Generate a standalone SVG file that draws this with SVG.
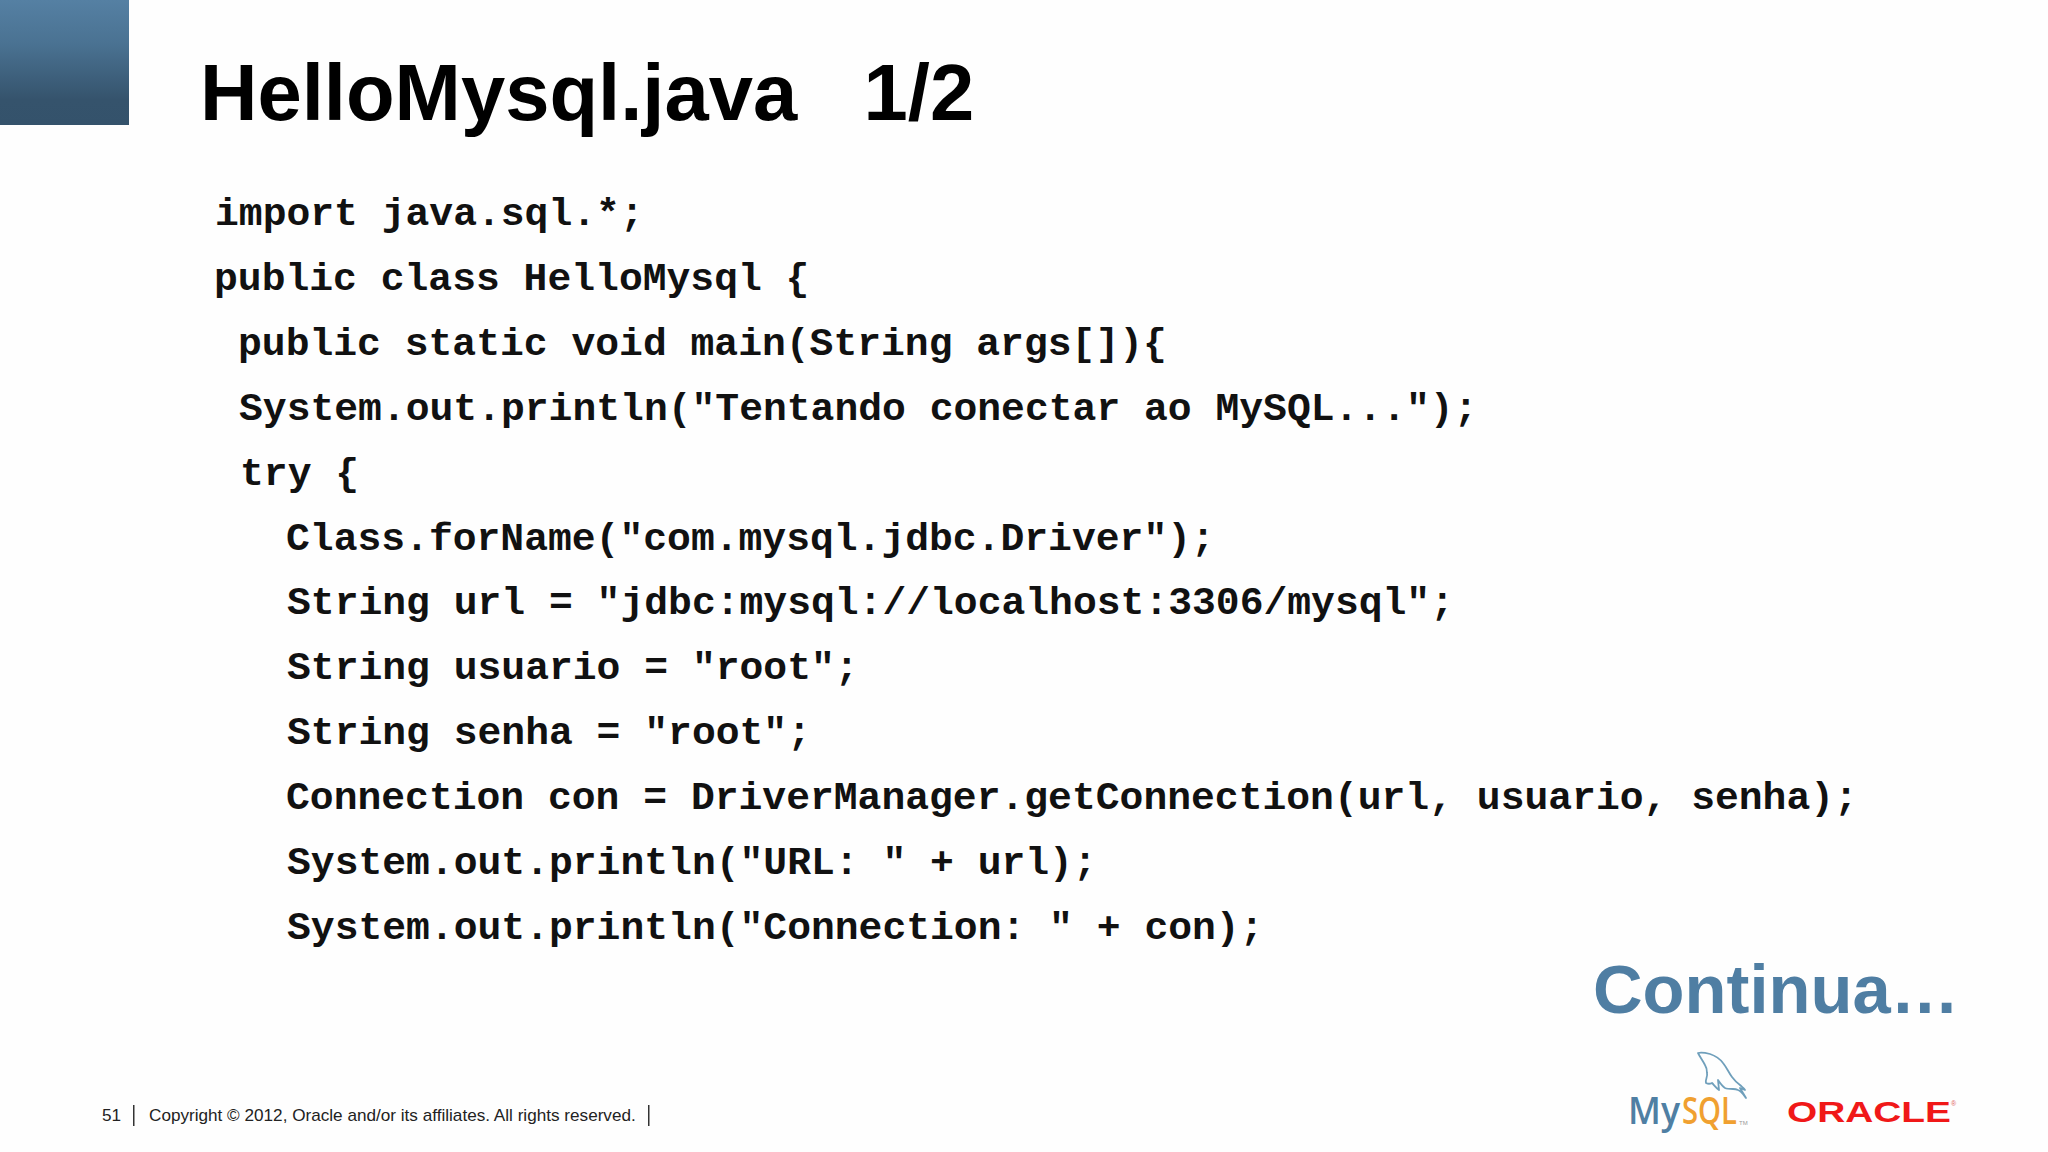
<svg xmlns="http://www.w3.org/2000/svg" width="2048" height="1152" viewBox="0 0 2048 1152">
<defs><linearGradient id="g" x1="0" y1="0" x2="0" y2="1"><stop offset="0" stop-color="#5580a3"/><stop offset="0.35" stop-color="#4a7292"/><stop offset="0.8" stop-color="#35536c"/><stop offset="1" stop-color="#34526b"/></linearGradient></defs>
<style>
.c{font-family:"Liberation Mono",monospace;font-weight:700;font-size:39.7px;fill:#111;white-space:pre}
.f{font-family:"Liberation Sans",Arial,sans-serif;font-size:17.15px;fill:#222}
</style>
<rect width="2048" height="1152" fill="#fefefe"/>
<rect x="0" y="0" width="129" height="125" fill="url(#g)"/>
<text x="200" y="120" font-family="Liberation Sans,Arial,sans-serif" font-weight="700" font-size="79.6" fill="#000" xml:space="preserve">HelloMysql.java   1/2</text>
<g id="code">
<text class="c" x="215" y="225">import java.sql.*;</text>
<text class="c" x="214" y="290">public class HelloMysql {</text>
<text class="c" x="238" y="355">public static void main(String args[]){</text>
<text class="c" x="239" y="420">System.out.println("Tentando conectar ao MySQL...");</text>
<text class="c" x="240" y="485">try {</text>
<text class="c" x="286" y="550">Class.forName("com.mysql.jdbc.Driver");</text>
<text class="c" x="287" y="614">String url = "jdbc:mysql://localhost:3306/mysql";</text>
<text class="c" x="287" y="679">String usuario = "root";</text>
<text class="c" x="287" y="744">String senha = "root";</text>
<text class="c" x="286" y="809">Connection con = DriverManager.getConnection(url, usuario, senha);</text>
<text class="c" x="287" y="874">System.out.println("URL: " + url);</text>
<text class="c" x="287" y="939">System.out.println("Connection: " + con);</text>
</g>
<text x="1593" y="1013" font-family="Liberation Sans,Arial,sans-serif" font-weight="700" font-size="68.7" fill="#4f7ea3">Continua…</text>
<g id="footer">
<text class="f" x="102" y="1121">51</text>
<rect x="133" y="1105" width="1.5" height="21" fill="#333"/>
<text class="f" x="149" y="1121">Copyright © 2012, Oracle and/or its affiliates. All rights reserved.</text>
<rect x="648" y="1105" width="1.5" height="21" fill="#333"/>
</g>
<g id="mysql-logo">
<path d="M1698 1053C1702 1052 1706 1053 1710 1054C1716 1056 1720 1059 1723 1063C1727 1068 1729 1073 1732 1077C1735 1081 1737 1083 1740 1085C1742 1087 1744 1088 1745 1090L1740 1088L1746 1098C1743 1094 1741 1091 1738 1090C1736 1089 1735 1089 1733 1089C1730 1089 1727 1089 1725 1088C1722 1086 1720 1083 1718 1080L1719 1090C1716 1088 1714 1085 1712 1083C1710 1084 1708 1084 1706 1083C1705 1079 1708 1077 1707 1073C1707 1069 1707 1068 1705 1065C1703 1061 1700 1057 1698 1053Z" fill="none" stroke="#6f9fbb" stroke-width="1.8" stroke-linejoin="round"/>
<text x="1628" y="1124" font-family="Open Sans,Liberation Sans,sans-serif" font-weight="600" font-size="37" textLength="52" lengthAdjust="spacingAndGlyphs" fill="#4f7fa3">My</text>
<text x="1682" y="1124" font-family="Open Sans,Liberation Sans,sans-serif" font-weight="600" font-size="37" textLength="55" lengthAdjust="spacingAndGlyphs" fill="#f0a030">SQL</text>
<text x="1739" y="1125" font-family="Liberation Sans,sans-serif" font-size="6" fill="#999">TM</text>
</g>
<g id="oracle-logo">
<text x="1787" y="1122" font-family="Liberation Sans,Arial,sans-serif" font-weight="700" font-size="30" textLength="164" lengthAdjust="spacingAndGlyphs" fill="#f01818">ORACLE</text>
<text x="1951" y="1106" font-family="Liberation Sans,sans-serif" font-size="7" fill="#e06060">®</text>
</g>
</svg>
